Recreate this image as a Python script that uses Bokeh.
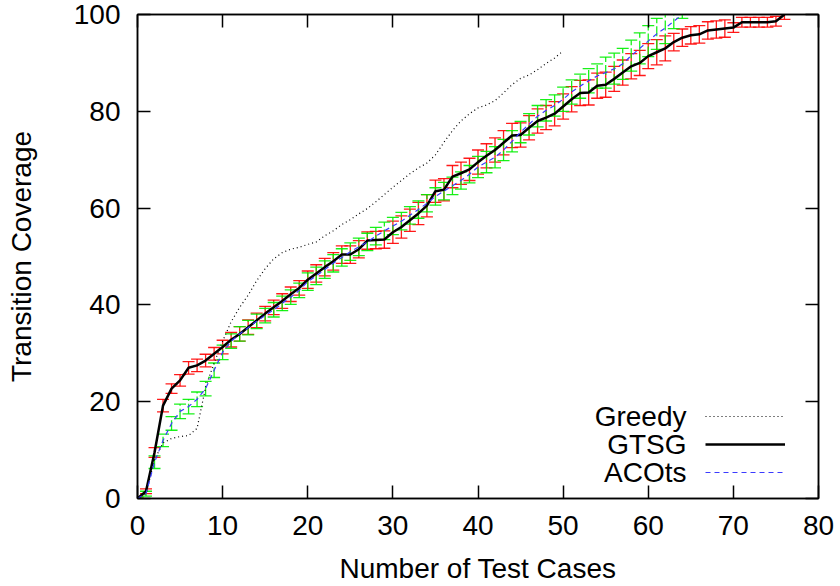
from bokeh.plotting import figure
from bokeh.models import (Range1d, LinearAxis, FixedTicker, Whisker, TeeHead,
                          ColumnDataSource, Legend, LegendItem, Label)
from bokeh.embed import file_html
from bokeh.resources import INLINE
from bokeh.core.properties import value

# ---------------- data ----------------
x_ticks = [0, 10, 20, 30, 40, 50, 60, 70, 80]
y_ticks = [0, 20, 40, 60, 80, 100]

gtsg_x = list(range(0, 77))
gtsg_y = [0, 1.5, 9.5, 19.2, 22.7, 24.4, 27.0, 27.5, 28.5, 29.9,
          31.3, 32.8, 34.0, 35.4, 36.8, 38.2, 39.5, 40.8, 42.2, 43.5,
          45.2, 46.5, 47.8, 49.0, 50.4, 50.4, 51.5, 53.3, 53.4, 53.5,
          55.0, 56.1, 57.5, 58.9, 60.5, 63.5, 63.8, 66.5, 67.2, 68.0,
          69.5, 70.8, 72.0, 73.5, 75.0, 75.1, 76.6, 78.0, 78.7, 79.5,
          81.0, 82.5, 83.8, 83.9, 85.3, 85.5, 86.7, 88.0, 89.3, 90.0,
          91.4, 92.2, 93.0, 94.3, 95.2, 95.7, 95.9, 96.7, 96.9, 97.1,
          97.3, 98.4, 98.4, 98.4, 98.4, 98.6, 100]
gtsg_err = [0.3, 0.5, 1.0, 1.3, 1.0, 1.2, 1.3, 1.3, 1.3, 1.3,
            1.4, 1.5, 1.5, 1.5, 1.5, 1.5, 1.5, 1.5, 1.5, 1.5,
            1.8, 1.8, 1.8, 1.8, 1.8, 1.8, 1.8, 1.8, 1.8, 1.8,
            2.3, 2.3, 2.3, 2.3, 2.3, 2.3, 2.3, 2.3, 2.3, 2.3,
            2.5, 2.5, 2.5, 2.5, 2.5, 2.5, 2.5, 2.5, 2.5, 2.5,
            2.6, 2.6, 2.6, 2.6, 2.6, 2.6, 2.6, 2.6, 2.6, 2.6,
            2.6, 2.6, 2.6, 1.8, 1.8, 1.8, 1.8, 1.8, 1.8, 1.8,
            1.0, 1.0, 1.0, 1.0, 1.0, 1.0, 1.0]

aco_x = list(range(0, 65))
aco_y = [0, 1, 7.5, 12, 15.5, 18, 19, 20.5, 22.7, 26.5,
         30.2, 32.5, 34, 35.3, 36.6, 37.8, 39, 40.3, 41.6, 43,
         44.8, 46, 47.3, 48.6, 49.8, 51, 52, 53, 54.2, 55.3,
         56.3, 57.3, 58.5, 59.7, 61, 62.4, 63.5, 64.6, 65.7, 67,
         68.5, 69.5, 70.5, 72, 73.8, 75.7, 77.3, 79, 80.2, 81.2,
         82.5, 84, 85.2, 86.3, 87.3, 88, 88.8, 89.8, 91.5, 93,
         94.5, 96, 97.2, 98.6, 100]
aco_err = [0.3, 0.5, 1.3, 1.3, 1.4, 1.5, 1.5, 1.5, 1.5, 1.5,
           1.5, 1.5, 1.5, 1.5, 1.5, 1.5, 1.5, 1.5, 1.5, 1.5,
           1.8, 1.8, 1.8, 1.8, 1.8, 1.8, 1.8, 1.8, 1.8, 1.8,
           1.8, 1.8, 1.8, 1.8, 1.8, 1.8, 1.8, 1.8, 1.8, 1.8,
           2.2, 2.2, 2.2, 2.2, 2.2, 2.2, 2.2, 2.2, 2.2, 2.2,
           2.5, 2.5, 2.5, 2.5, 2.5, 3.2, 3.2, 3.2, 3.2, 3.2,
           3.2, 3.2, 3.2, 1.5, 0.8]

greedy_x = list(range(0, 51))
greedy_y = [0, 1, 8, 11.5, 12.4, 12.8, 13, 14.5, 23, 28,
            32.5, 36.5, 39.5, 42, 45, 47.5, 49.5, 50.8, 51.5, 51.9,
            52.5, 53, 54.3, 55.3, 56.6, 57.6, 58.8, 59.9, 61.3, 62.8,
            64.3, 65.7, 67.1, 68.3, 69.3, 71, 73.6, 76, 78, 79.5,
            80.7, 81.3, 82.2, 83.8, 85.5, 86.8, 87.5, 88.6, 89.9, 91,
            92.5]

series_names = ["Greedy", "GTSG", "ACOts"]
x_title = "Number of Test Cases"
y_title = "Transition Coverage"

FONT = "Liberation Sans"
FS = "28px"

# ---------------- figure ----------------
p = figure(width=840, height=586, output_backend="svg", toolbar_location=None,
           x_range=Range1d(0, 80), y_range=Range1d(0, 100),
           min_border_left=137, min_border_right=22, min_border_top=14,
           min_border_bottom=88)
p.xgrid.visible = False
p.ygrid.visible = False
p.outline_line_color = "black"
p.outline_line_width = 1.5
p.background_fill_color = "white"
p.border_fill_color = "white"


def style_axis(ax, ticks, show_labels):
    ax.ticker = FixedTicker(ticks=ticks)
    ax.major_tick_in = 13
    ax.major_tick_out = 0
    ax.minor_tick_line_color = None
    ax.major_tick_line_color = "black"
    ax.major_tick_line_width = 1.5
    ax.axis_line_color = "black"
    ax.axis_line_width = 1.5
    ax.major_label_text_font = FONT
    if show_labels:
        ax.major_label_text_color = "black"
        ax.major_label_text_font_size = FS
        ax.major_label_standoff = 17
    else:
        ax.major_label_text_color = None
        ax.major_label_text_font_size = "1px"
        ax.major_label_standoff = 0


style_axis(p.xaxis[0], x_ticks, True)
style_axis(p.yaxis[0], y_ticks, True)
p.xaxis[0].axis_label = x_title
p.yaxis[0].axis_label = y_title
for ax in (p.xaxis[0], p.yaxis[0]):
    ax.axis_label_text_font = FONT
    ax.axis_label_text_font_size = FS
    ax.axis_label_text_font_style = "normal"
    ax.axis_label_text_color = "black"
p.xaxis[0].axis_label_standoff = 15
p.yaxis[0].axis_label_standoff = 34

top_ax = LinearAxis()
style_axis(top_ax, x_ticks, False)
p.add_layout(top_ax, "above")
right_ax = LinearAxis()
style_axis(right_ax, y_ticks, False)
p.add_layout(right_ax, "right")

# ---------------- error bars ----------------
src_g = ColumnDataSource(dict(
    x=gtsg_x,
    lo=[v - e for v, e in zip(gtsg_y, gtsg_err)],
    hi=[v + e for v, e in zip(gtsg_y, gtsg_err)]))
src_a = ColumnDataSource(dict(
    x=aco_x,
    lo=[v - e for v, e in zip(aco_y, aco_err)],
    hi=[v + e for v, e in zip(aco_y, aco_err)]))

red = "#ff0000"
green = "#00f000"
wg = Whisker(base="x", lower="lo", upper="hi", source=src_g, dimension="height",
             line_color=red, line_width=1.3, line_alpha=0.9,
             upper_head=TeeHead(size=12, line_color=red, line_width=1.3, line_alpha=0.9),
             lower_head=TeeHead(size=12, line_color=red, line_width=1.3, line_alpha=0.9))
wa = Whisker(base="x", lower="lo", upper="hi", source=src_a, dimension="height",
             line_color=green, line_width=1.3, line_dash="10 3", line_alpha=0.9,
             upper_head=TeeHead(size=12, line_color=green, line_width=1.3, line_alpha=0.9),
             lower_head=TeeHead(size=12, line_color=green, line_width=1.3, line_alpha=0.9))
p.add_layout(wg)
p.add_layout(wa)

# ---------------- lines ----------------
r_greedy = p.line(greedy_x, greedy_y, line_color="black", line_width=1.2,
                  line_dash="1 3")
r_gtsg = p.line(gtsg_x, gtsg_y, line_color="black", line_width=2.5)
r_aco = p.line(aco_x, aco_y, line_color="#3b3bff", line_width=1.2,
               line_dash="5 4")

# ---------------- legend (samples) + texts on the left ----------------
legend = Legend(items=[LegendItem(label=value(" "), renderers=[r]) for r in
                       (r_greedy, r_gtsg, r_aco)],
                location=(568, 12), padding=0, margin=0, spacing=0,
                glyph_width=80, glyph_height=28, label_standoff=0,
                label_width=0, label_height=28, label_text_font_size="1px",
                label_text_color=None,
                border_line_color=None, background_fill_alpha=0)
p.add_layout(legend, "center")

row_y = [82, 54, 26]
for name, yy in zip(series_names, row_y):
    p.add_layout(Label(x=549, y=yy, x_units="screen", y_units="screen",
                       text=name, text_align="right", text_baseline="middle",
                       text_font=FONT, text_font_size=FS, text_color="black"))

open("out.html", "w").write(file_html(p, INLINE))
